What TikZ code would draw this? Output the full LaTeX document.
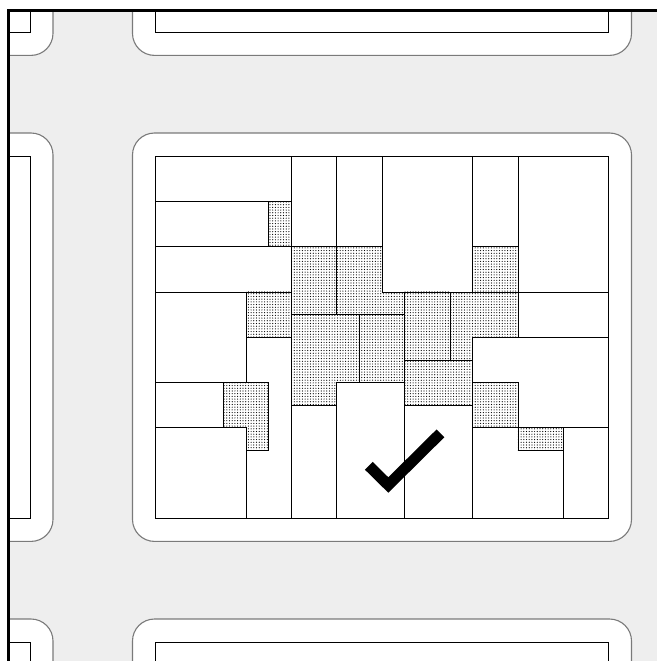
\documentclass[tikz,border=0pt]{standalone}
\usetikzlibrary{patterns.meta}
\definecolor{road}{HTML}{EEEEEE}
\definecolor{blockedge}{HTML}{7A7A7A}
\begin{document}
\begin{tikzpicture}[x=1pt,y=-1pt,
  blockbox/.style={fill=white, draw=blockedge, line width=1.1pt, rounded corners=22pt},
  lotarea/.style={draw=black, line width=0.7pt},
  lot/.style={draw=black, line width=0.7pt},
  dotlot/.style={draw=black, line width=0.7pt, pattern={Dots[distance=2.7pt,radius=0.6pt]}, pattern color=black},
  checkmark/.style={draw=black, line width=11pt, line join=miter, line cap=butt},
  frameline/.style={draw=black, line width=3.2pt, line join=miter}
]
\useasboundingbox (0,0) rectangle (657,661);
\fill[white] (0,0) rectangle (657,661);
\begin{scope}
  \clip (8.5,10.3) rectangle (657,661);
  \fill[road] (8.5,10.3) rectangle (657,661);
  \foreach \bx in {-446,132.5} {
    \foreach \by in {-353,133,619} {
      \draw[blockbox] (\bx,\by) rectangle ++(499,408.4);
      \draw[lotarea] (\bx+23,\by+23) rectangle ++(453,362.4);
    }
  }
  \begin{scope}[xshift=155.5pt, yshift=-156pt, x=22.65pt, y=-22.65pt]
    % white lots
    \draw[lot] (0,0) -- (6,0) -- (6,2) -- (0,2) -- cycle;
    \draw[lot] (0,2) -- (5,2) -- (5,4) -- (0,4) -- cycle;
    \draw[lot] (0,4) -- (6,4) -- (6,6) -- (0,6) -- cycle;
    \draw[lot] (0,6) -- (4,6) -- (4,10) -- (0,10) -- cycle;
    \draw[lot] (0,10) -- (3,10) -- (3,12) -- (0,12) -- cycle;
    \draw[lot] (0,12) -- (4,12) -- (4,16) -- (0,16) -- cycle;
    \draw[lot] (4,8) -- (6,8) -- (6,16) -- (4,16) -- (4,13) -- (5,13) -- (5,10) -- (4,10) -- cycle;
    \draw[lot] (6,11) -- (8,11) -- (8,16) -- (6,16) -- cycle;
    \draw[lot] (8,10) -- (11,10) -- (11,16) -- (8,16) -- cycle;
    \draw[lot] (11,11) -- (14,11) -- (14,16) -- (11,16) -- cycle;
    \draw[lot] (14,8) -- (20,8) -- (20,12) -- (16,12) -- (16,10) -- (14,10) -- cycle;
    \draw[lot] (14,12) -- (16,12) -- (16,13) -- (18,13) -- (18,16) -- (14,16) -- cycle;
    \draw[lot] (18,12) -- (20,12) -- (20,16) -- (18,16) -- cycle;
    \draw[lot] (16,0) -- (20,0) -- (20,6) -- (16,6) -- cycle;
    \draw[lot] (16,6) -- (20,6) -- (20,8) -- (16,8) -- cycle;
    \draw[lot] (14,0) -- (16,0) -- (16,4) -- (14,4) -- cycle;
    \draw[lot] (10,0) -- (14,0) -- (14,6) -- (10,6) -- cycle;
    \draw[lot] (8,0) -- (10,0) -- (10,4) -- (8,4) -- cycle;
    \draw[lot] (6,0) -- (8,0) -- (8,4) -- (6,4) -- cycle;
    % dotted lots
    \draw[dotlot] (6,4) -- (8,4) -- (8,7) -- (6,7) -- cycle;
    \draw[dotlot] (8,4) -- (10,4) -- (10,6) -- (11,6) -- (11,7) -- (8,7) -- cycle;
    \draw[dotlot] (13,6) -- (16,6) -- (16,8) -- (14,8) -- (14,9) -- (13,9) -- cycle;
    \draw[dotlot] (6,7) -- (9,7) -- (9,10) -- (8,10) -- (8,11) -- (6,11) -- cycle;
    \draw[dotlot] (9,7) -- (11,7) -- (11,10) -- (9,10) -- cycle;
    \draw[dotlot] (11,9) -- (14,9) -- (14,11) -- (11,11) -- cycle;
    \draw[dotlot] (11,6) -- (13,6) -- (13,9) -- (11,9) -- cycle;
    \draw[dotlot] (14,4) -- (16,4) -- (16,6) -- (14,6) -- cycle;
    \draw[dotlot] (4,6) -- (6,6) -- (6,8) -- (4,8) -- cycle;
    \draw[dotlot] (5,2) -- (6,2) -- (6,4) -- (5,4) -- cycle;
    \draw[dotlot] (14,10) -- (16,10) -- (16,12) -- (14,12) -- cycle;
    \draw[dotlot] (16,12) -- (18,12) -- (18,13) -- (16,13) -- cycle;
    \draw[dotlot] (3,10) -- (5,10) -- (5,13) -- (4,13) -- (4,12) -- (3,12) -- cycle;
  \end{scope}
  \draw[checkmark] (368.8,465.8) -- (388.3,485) -- (440.5,433.3);
\end{scope}
\draw[frameline] (8.5,661) -- (8.5,10.3) -- (657,10.3);
\end{tikzpicture}
\end{document}
